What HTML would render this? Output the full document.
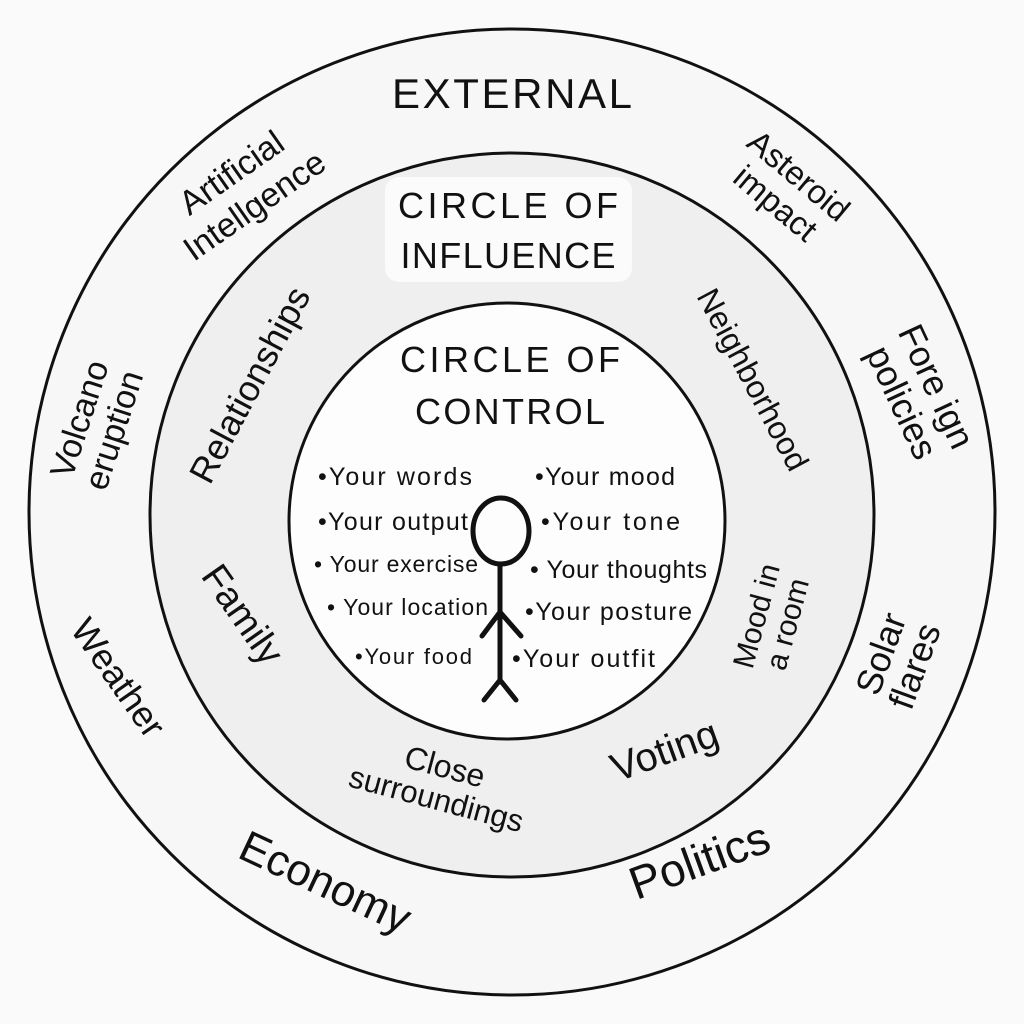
<!DOCTYPE html>
<html><head><style>html,body{margin:0;padding:0;background:#fafafa}svg{display:block}
text{font-family:"Liberation Sans",sans-serif;fill:#111}</style></head>
<body>
<svg width="1024" height="1024" viewBox="0 0 1024 1024" xmlns="http://www.w3.org/2000/svg">
<rect width="1024" height="1024" fill="#fafafa"/>
<circle cx="512" cy="512" r="483" fill="#f7f7f7" stroke="#111" stroke-width="3"/>
<circle cx="512" cy="515" r="362" fill="#efefef" stroke="#111" stroke-width="3"/>
<rect x="385" y="177" width="247" height="105" rx="14" fill="#fbfbfb"/>
<circle cx="507" cy="521" r="218" fill="#fdfdfd" stroke="#111" stroke-width="3"/>

<text x="512" y="108" font-size="42" text-anchor="middle" textLength="240">EXTERNAL</text>
<text x="508" y="218" font-size="36" text-anchor="middle" textLength="220">CIRCLE OF</text>
<text x="508" y="268" font-size="36" text-anchor="middle" textLength="215">INFLUENCE</text>
<text x="510" y="372" font-size="36" text-anchor="middle" textLength="220">CIRCLE OF</text>
<text x="510" y="424" font-size="36" text-anchor="middle" textLength="190">CONTROL</text>

<g font-size="30" text-anchor="middle">
<g transform="translate(245,192) rotate(-35)"><text x="0" y="-12" font-size="34">Artificial</text><text x="0" y="28" font-size="34">Intellgence</text></g>
<g transform="translate(785,192) rotate(40)"><text x="0" y="-10" font-size="33">Asteroid</text><text x="0" y="26" font-size="33">impact</text></g>
<g transform="translate(98,425) rotate(-72)"><text x="0" y="-8" font-size="34">Volcano</text><text x="0" y="28" font-size="34">eruption</text></g>
<g transform="translate(918,395) rotate(65)"><text x="0" y="-8" font-size="36">Fore ign</text><text x="0" y="30" font-size="36">policies</text></g>
<g transform="translate(118,678) rotate(55)"><text x="0" y="12" font-size="36">Weather</text></g>
<g transform="translate(898,660) rotate(-70)"><text x="0" y="-6" font-size="36">Solar</text><text x="0" y="30" font-size="36">flares</text></g>
<g transform="translate(325,883) rotate(25)"><text x="0" y="14" font-size="44">Economy</text></g>
<g transform="translate(700,862) rotate(-20)"><text x="0" y="14" font-size="46">Politics</text></g>
<g transform="translate(250,385) rotate(-62)"><text x="0" y="12" font-size="36">Relationships</text></g>
<g transform="translate(752,380) rotate(62)"><text x="0" y="10" font-size="32">Neighborhood</text></g>
<g transform="translate(242,615) rotate(55)"><text x="0" y="12" font-size="38">Family</text></g>
<g transform="translate(772,620) rotate(-75)"><text x="0" y="-6" font-size="30">Mood in</text><text x="0" y="26" font-size="30">a room</text></g>
<g transform="translate(440,785) rotate(15)"><text x="0" y="-8" font-size="32">Close</text><text x="0" y="25" font-size="31">surroundings</text></g>
<g transform="translate(665,752) rotate(-20)"><text x="0" y="12" font-size="40">Voting</text></g>
</g>

<g font-size="25">
<text x="318" y="485" textLength="154">•Your words</text>
<text x="318" y="530" textLength="150">•Your output</text>
<text x="314" y="572" font-size="23" textLength="164">• Your exercise</text>
<text x="327" y="615" font-size="23" textLength="161">• Your location</text>
<text x="355" y="664" font-size="22" textLength="117">•Your food</text>
<text x="535" y="485" textLength="140">•Your mood</text>
<text x="541" y="530" textLength="139">•Your tone</text>
<text x="530" y="578" textLength="177">• Your thoughts</text>
<text x="525" y="620" textLength="167">•Your posture</text>
<text x="512" y="667" textLength="143">•Your outfit</text>
</g>

<g stroke="#111" stroke-width="5" fill="none" stroke-linecap="round">
<ellipse cx="501" cy="531" rx="28" ry="33"/>
<line x1="500" y1="564" x2="500" y2="682"/>
<line x1="500" y1="612" x2="482" y2="636"/>
<line x1="500" y1="612" x2="521" y2="636"/>
<line x1="500" y1="680" x2="484" y2="700"/>
<line x1="500" y1="680" x2="516" y2="700"/>
</g>
</svg>
</body></html>
